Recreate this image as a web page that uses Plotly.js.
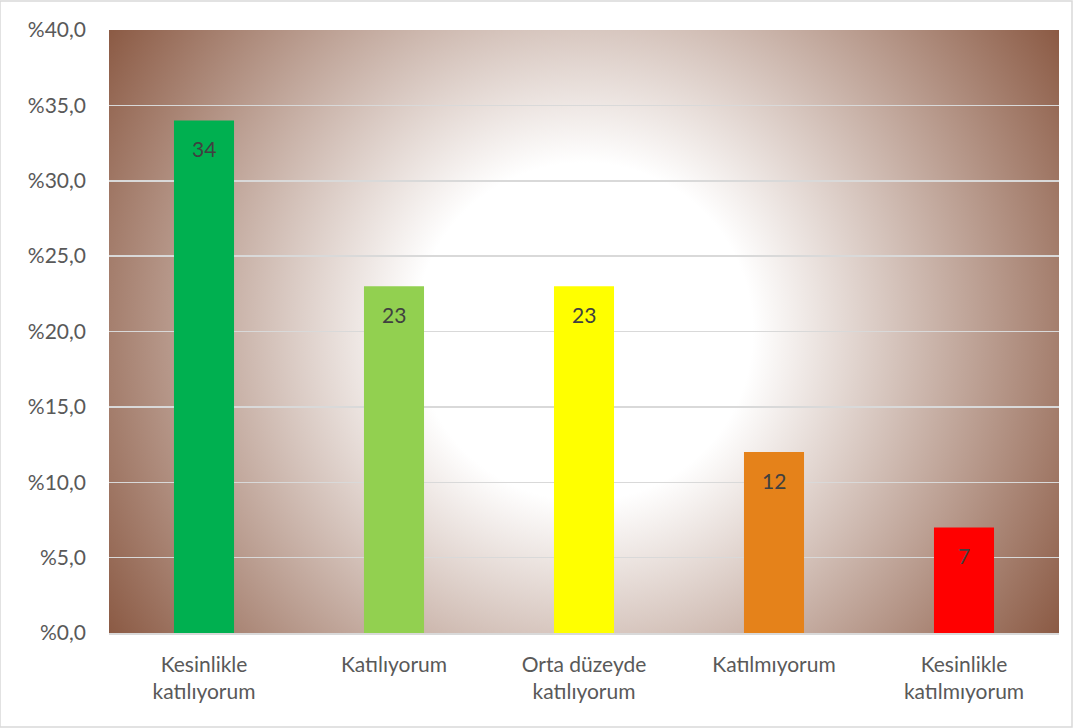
<!DOCTYPE html>
<html>
<head>
<meta charset="utf-8">
<script src="https://cdn.plot.ly/plotly-3.0.1.min.js"></script>
<style>
  body { margin: 0; background: #fff; }
  #chart { width: 1073px; height: 728px; }
</style>
</head>
<body>
<div id="chart"></div>
<script>
// survey answers, percent
var categories = ["Kesinlikle<br>katılıyorum", "Katılıyorum", "Orta düzeyde<br>katılıyorum", "Katılmıyorum", "Kesinlikle<br>katılmıyorum"]
var values = [34, 23, 23, 12, 7]
var barColors = ["#00b050", "#92d050", "#ffff00", "#e5821a", "#ff0000"]
var yTicks = [0, 5, 10, 15, 20, 25, 30, 35, 40]
var yTickText = ["%0,0", "%5,0", "%10,0", "%15,0", "%20,0", "%25,0", "%30,0", "%35,0", "%40,0"]

// radial background for the plot area, drawn on a canvas
function makeBackground(w, h) {
    let c = document.createElement("canvas")
    c.width = w
    c.height = h
    let ctx = c.getContext("2d")
    let r = Math.sqrt(w * w + h * h) / 2
    let g = ctx.createRadialGradient(w / 2, h / 2, 0, w / 2, h / 2, r)
    g.addColorStop(0, "#ffffff")
    g.addColorStop(0.3, "#ffffff")
    g.addColorStop(1, "#8b5a44")
    ctx.fillStyle = g
    ctx.fillRect(0, 0, w, h)
    return c.toDataURL("image/png")
}

var font = "Lato, 'Open Sans', sans-serif"

var data = [{
    type: "bar",
    x: categories,
    y: values,
    marker: {color: barColors},
    hoverinfo: "none"
}]

// value labels just under the top of each bar
var labels = values.map(function (v, i) {
    return {
        x: categories[i], y: v,
        text: String(v),
        showarrow: false,
        yanchor: "middle",
        yshift: -28,
        font: {family: font, size: 21, color: "#404040"}
    }
})

var layout = {
    width: 1073,
    height: 728,
    margin: {l: 109, r: 14, t: 30, b: 95},
    paper_bgcolor: "#ffffff",
    plot_bgcolor: "rgba(0,0,0,0)",
    bargap: 0.684,
    showlegend: false,
    font: {family: font, size: 21, color: "#595959"},
    xaxis: {
        showgrid: false,
        showline: true,
        linecolor: "#d9d9d9",
        linewidth: 1.5,
        ticks: "",
        ticklabelstandoff: 12,
        tickfont: {family: font, size: 21, color: "#595959"}
    },
    yaxis: {
        range: [0, 40],
        tickvals: yTicks,
        ticktext: yTickText,
        showgrid: true,
        gridcolor: "#d9d9d9",
        gridwidth: 1.5,
        zeroline: false,
        showline: false,
        ticks: "",
        ticklabelstandoff: 22,
        tickfont: {family: font, size: 21, color: "#595959"}
    },
    annotations: labels,
    images: [{
        source: makeBackground(950, 603),
        xref: "paper", yref: "paper",
        x: 0, y: 1, sizex: 1, sizey: 1,
        sizing: "stretch",
        xanchor: "left", yanchor: "top",
        layer: "below"
    }],
    shapes: [{
        type: "rect",
        xref: "paper", yref: "paper",
        x0: -109 / 950, x1: 1072 / 950 - 109 / 950,
        y0: -94 / 603, y1: 1 + 29 / 603,
        line: {color: "#d9d9d9", width: 1.5}
    }]
}

Plotly.newPlot("chart", data, layout, {displayModeBar: false, staticPlot: true})
</script>
</body>
</html>
